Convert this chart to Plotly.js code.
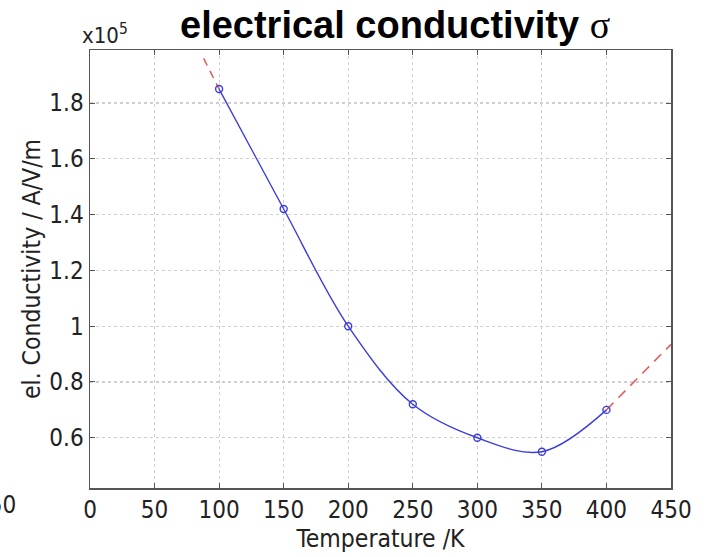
<!DOCTYPE html>
<html><head><meta charset="utf-8">
<script src="https://cdn.plot.ly/plotly-3.0.1.min.js"></script>
<style>html,body{margin:0;padding:0;background:#fff}#chart{width:708px;height:557px}</style>
</head><body><div id="chart"></div>
<script>
const temperature = [100, 150, 200, 250, 300, 350, 400];
const conductivity = [1.85, 1.42, 1.0, 0.72, 0.6, 0.55, 0.7];
const extrapLeftT = [88, 100];
const extrapLeftC = [1.96, 1.85];
const extrapRightT = [400, 450];
const extrapRightC = [0.7, 0.935];
const xTicks = [0, 50, 100, 150, 200, 250, 300, 350, 400, 450];
const yTicks = [0.6, 0.8, 1, 1.2, 1.4, 1.6, 1.8];

const FAM = 'DejaVu Sans Condensed, DejaVu Sans';
const tickFont = {family: FAM, size: 24, color: '#222'};
const titleFont = {family: FAM, size: 24.5, color: '#222'};
const traces = [
  {x: extrapLeftT, y: extrapLeftC, mode: 'lines', line: {color: '#e06060', width: 1.6, dash: '8px,6px'}, hoverinfo: 'skip'},
  {x: extrapRightT, y: extrapRightC, mode: 'lines', line: {color: '#e06060', width: 1.6, dash: '10px,7px'}, hoverinfo: 'skip'},
  {x: temperature, y: conductivity, mode: 'lines+markers',
   line: {color: '#3c3cdc', width: 1.4, shape: 'spline', smoothing: 1},
   marker: {symbol: 'circle-open', size: 7, color: '#3c3cdc', line: {width: 1.4}}}
];
const axisCommon = {
  showline: true, linecolor: '#555', linewidth: 1.5, mirror: 'ticks',
  ticks: 'inside', ticklen: 5, tickcolor: '#555',
  showgrid: true, gridcolor: '#cfcfcf', griddash: 'dot', gridwidth: 1.2,
  zeroline: false, tickfont: tickFont
};
const layout = {
  width: 708, height: 557,
  margin: {l: 90, r: 37, t: 50, b: 69},
  paper_bgcolor: '#fff', plot_bgcolor: '#fff',
  showlegend: false,
  xaxis: Object.assign({}, axisCommon, {range: [0, 450], tickvals: xTicks, ticktext: xTicks.map(String),
    title: {text: 'Temperature /K', font: titleFont, standoff: 2}}),
  yaxis: Object.assign({}, axisCommon, {range: [0.42, 1.99], tickvals: yTicks, ticktext: yTicks.map(String),
    title: {text: 'el. Conductivity / A/V/m', font: titleFont, standoff: 2}}),
  annotations: [
    {xref: 'paper', yref: 'paper', x: 0.525, y: 1.0, yanchor: 'middle', yshift: 25, showarrow: false,
     text: '<b>electrical conductivity</b> <span style="font-family:Liberation Serif">σ</span>',
     font: {family: 'Liberation Sans, Arial', size: 38, color: '#000'}},
    {xref: 'paper', yref: 'paper', x: 0, y: 1.0, xanchor: 'left', yanchor: 'bottom', xshift: -10, yshift: 0, showarrow: false,
     text: 'x10<sup>5</sup>', font: {family: FAM, size: 22, color: '#222'}},
    {xref: 'paper', yref: 'paper', x: 0, y: 0, xanchor: 'right', yanchor: 'top', xshift: -72, yshift: -1, showarrow: false,
     text: '350', font: tickFont}
  ]
};
Plotly.newPlot('chart', traces, layout, {staticPlot: true, displayModeBar: false});
</script></body></html>
